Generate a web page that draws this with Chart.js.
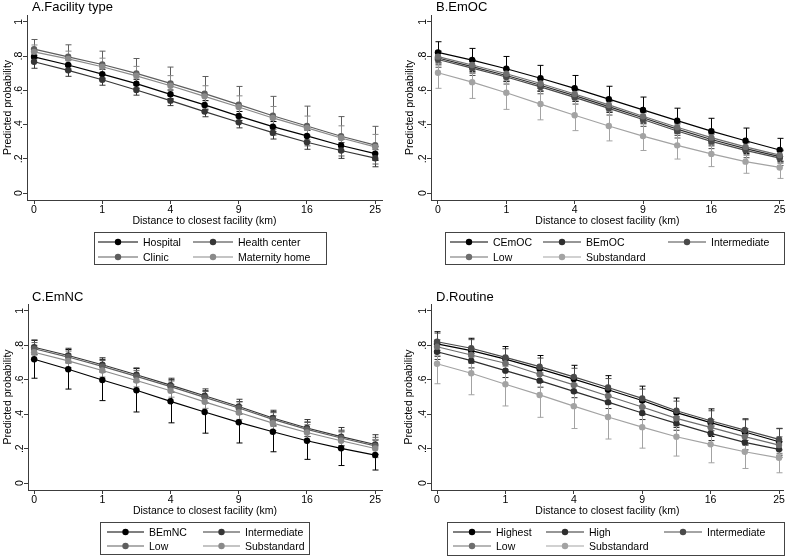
<!DOCTYPE html>
<html>
<head>
<meta charset="utf-8">
<script src="https://cdn.jsdelivr.net/npm/chart.js@4"></script>
<style>
  body { margin: 0; background: #fff; width: 787px; height: 557px; position: relative; overflow: hidden;
         font-family: "Liberation Sans", Arial, sans-serif; }
  .panel { position: absolute; }
  .panel canvas { position: absolute; left: 0; top: 0; }
  .ttl { position: absolute; font-size: 13px; line-height: 16px; color: #000; white-space: nowrap; }
  .leg { position: absolute; border: 1px solid #444; box-sizing: border-box; }
  .item { position: absolute; height: 14px; display: flex; align-items: center; font-size: 10.5px; color: #000; white-space: nowrap; }
  .item span { margin-left: 5px; }
</style>
</head>
<body>
<script>
// x positions are distances in km, plotted on a square-root axis
const distanceKm = [0, 0.25, 1, 2.25, 4, 6.25, 9, 12.25, 16, 20.25, 25];
const xTicksKm = [0, 1, 4, 9, 16, 25];
const xTickLabels = ['0', '1', '4', '9', '16', '25'];
const yTicks = [0, 0.2, 0.4, 0.6, 0.8, 1];
const yTickLabels = ['0', '.2', '.4', '.6', '.8', '1'];
const xTitle = 'Distance to closest facility (km)';
const yTitle = 'Predicted probability';

// A. Facility type  (ci = half width of the interval)
const facilityLabels = ['Hospital', 'Health center', 'Clinic', 'Maternity home'];
const facilityProb = [
  [0.796, 0.748, 0.695, 0.639, 0.577, 0.515, 0.450, 0.388, 0.334, 0.278, 0.231],
  [0.767, 0.717, 0.662, 0.602, 0.540, 0.476, 0.414, 0.353, 0.297, 0.249, 0.204],
  [0.841, 0.796, 0.751, 0.699, 0.641, 0.581, 0.517, 0.452, 0.392, 0.332, 0.280],
  [0.825, 0.784, 0.738, 0.685, 0.627, 0.565, 0.503, 0.439, 0.381, 0.322, 0.270]
];
const facilityCI = [
  [0.033, 0.030, 0.028, 0.026, 0.025, 0.025, 0.027, 0.030, 0.033, 0.036, 0.040],
  [0.038, 0.035, 0.032, 0.030, 0.029, 0.030, 0.033, 0.037, 0.041, 0.046, 0.050],
  [0.056, 0.070, 0.078, 0.087, 0.095, 0.100, 0.106, 0.113, 0.116, 0.115, 0.110],
  [0.040, 0.045, 0.050, 0.055, 0.059, 0.062, 0.065, 0.067, 0.069, 0.071, 0.073]
];

// B. EmOC
const emocLabels = ['CEmOC', 'BEmOC', 'Intermediate', 'Low', 'Substandard'];
const emocProb = [
  [0.822, 0.777, 0.726, 0.671, 0.612, 0.549, 0.486, 0.423, 0.362, 0.306, 0.252],
  [0.789, 0.739, 0.687, 0.630, 0.569, 0.505, 0.440, 0.374, 0.313, 0.260, 0.213],
  [0.780, 0.730, 0.678, 0.620, 0.559, 0.495, 0.430, 0.363, 0.302, 0.250, 0.204],
  [0.797, 0.748, 0.697, 0.640, 0.579, 0.515, 0.449, 0.385, 0.324, 0.270, 0.222],
  [0.703, 0.648, 0.586, 0.520, 0.455, 0.392, 0.333, 0.279, 0.229, 0.184, 0.150]
];
const emocCI = [
  [0.062, 0.068, 0.072, 0.075, 0.075, 0.075, 0.075, 0.073, 0.075, 0.074, 0.068],
  [0.040, 0.038, 0.036, 0.035, 0.034, 0.034, 0.035, 0.036, 0.037, 0.037, 0.037],
  [0.045, 0.043, 0.041, 0.040, 0.039, 0.039, 0.040, 0.041, 0.042, 0.043, 0.043],
  [0.032, 0.031, 0.030, 0.029, 0.029, 0.029, 0.030, 0.031, 0.032, 0.033, 0.034],
  [0.091, 0.095, 0.097, 0.092, 0.090, 0.087, 0.084, 0.080, 0.074, 0.068, 0.064]
];

// C. EmNC
const emncLabels = ['BEmNC', 'Intermediate', 'Low', 'Substandard'];
const emncProb = [
  [0.719, 0.661, 0.599, 0.539, 0.475, 0.413, 0.353, 0.298, 0.246, 0.202, 0.163],
  [0.789, 0.741, 0.687, 0.629, 0.569, 0.507, 0.445, 0.378, 0.320, 0.270, 0.224],
  [0.780, 0.732, 0.678, 0.620, 0.560, 0.498, 0.436, 0.370, 0.312, 0.262, 0.216],
  [0.760, 0.710, 0.654, 0.596, 0.536, 0.472, 0.410, 0.348, 0.294, 0.246, 0.201]
];
const emncCI = [
  [0.110, 0.115, 0.120, 0.126, 0.125, 0.123, 0.120, 0.116, 0.108, 0.100, 0.087],
  [0.042, 0.042, 0.041, 0.040, 0.040, 0.040, 0.042, 0.045, 0.049, 0.053, 0.057],
  [0.036, 0.035, 0.034, 0.033, 0.033, 0.034, 0.036, 0.039, 0.042, 0.046, 0.050],
  [0.040, 0.039, 0.038, 0.037, 0.037, 0.038, 0.040, 0.043, 0.046, 0.050, 0.053]
];

// D. Routine
const routineLabels = ['Highest', 'High', 'Intermediate', 'Low', 'Substandard'];
const routineProb = [
  [0.808, 0.769, 0.720, 0.663, 0.604, 0.542, 0.480, 0.409, 0.351, 0.297, 0.240],
  [0.763, 0.711, 0.653, 0.595, 0.533, 0.470, 0.407, 0.347, 0.289, 0.237, 0.196],
  [0.821, 0.783, 0.730, 0.676, 0.617, 0.555, 0.492, 0.420, 0.362, 0.308, 0.254],
  [0.792, 0.744, 0.696, 0.632, 0.570, 0.506, 0.442, 0.376, 0.324, 0.270, 0.221],
  [0.693, 0.638, 0.574, 0.512, 0.447, 0.384, 0.325, 0.269, 0.225, 0.182, 0.147]
];
const routineCI = [
  [0.071, 0.072, 0.073, 0.078, 0.080, 0.082, 0.083, 0.085, 0.080, 0.076, 0.078],
  [0.045, 0.042, 0.040, 0.038, 0.037, 0.037, 0.038, 0.040, 0.042, 0.044, 0.046],
  [0.050, 0.050, 0.050, 0.050, 0.050, 0.052, 0.054, 0.056, 0.058, 0.060, 0.062],
  [0.040, 0.039, 0.038, 0.037, 0.037, 0.038, 0.040, 0.042, 0.044, 0.046, 0.048],
  [0.116, 0.125, 0.126, 0.130, 0.130, 0.128, 0.122, 0.112, 0.107, 0.097, 0.087]
];

const grays4 = ['#000000', '#363636', '#5e5e5e', '#8a8a8a'];
const grays5 = ['#000000', '#2e2e2e', '#4a4a4a', '#6e6e6e', '#a3a3a3'];

const panels = [
  { title: 'A.Facility type', labels: facilityLabels, prob: facilityProb, ci: facilityCI, colors: grays4,
    box: [0, 0, 393, 278], padL: 0, yW: 27, areaR: 382, areaT: 15, areaB: 200, xRange: [-0.103, 5.1],
    titleAt: [32, -1], legend: { x: 94, y: 232, w: 233, h: 33, cols: [3, 98], rows: [10, 25], sym: 40 } },
  { title: 'B.EmOC', labels: emocLabels, prob: emocProb, ci: emocCI, colors: grays5,
    box: [393, 0, 394, 278], padL: 9, yW: 29, areaR: 392, areaT: 15, areaB: 200, xRange: [-0.102, 5.06],
    titleAt: [43, -1], legend: { x: 52, y: 232, w: 340, h: 33, cols: [4, 97, 222], rows: [10, 25], sym: 38 } },
  { title: 'C.EmNC', labels: emncLabels, prob: emncProb, ci: emncCI, colors: grays4,
    box: [0, 289, 393, 268], padL: 0, yW: 28, areaR: 382, areaT: 15, areaB: 201, xRange: [-0.09, 5.1],
    titleAt: [32, 0], legend: { x: 100, y: 233, w: 210, h: 33, cols: [6, 102], rows: [10, 24], sym: 37 } },
  { title: 'D.Routine', labels: routineLabels, prob: routineProb, ci: routineCI, colors: grays5,
    box: [393, 289, 394, 268], padL: 8, yW: 30, areaR: 391, areaT: 15, areaB: 201, xRange: [-0.088, 5.07],
    titleAt: [43, 0], legend: { x: 54, y: 233, w: 338, h: 34, cols: [5, 98, 216], rows: [10, 24], sym: 38 } }
];

const xAxisH = 27;
const axisColor = '#3c3c3c';
const tickFont = { family: '"Liberation Sans", Arial, sans-serif', size: 10.5 };

// confidence interval caps, drawn under the lines
const ciBars = {
  id: 'ciBars',
  beforeDatasetsDraw(chart) {
    const { ctx, scales: { x, y } } = chart;
    chart.data.datasets.forEach(ds => {
      ctx.save();
      ctx.strokeStyle = ds.borderColor;
      ctx.lineWidth = 1;
      ds.data.forEach((p, i) => {
        const px = Math.round(x.getPixelForValue(p.x)) + 0.5;
        const top = y.getPixelForValue(p.y + ds.ci[i]);
        const bot = y.getPixelForValue(p.y - ds.ci[i]);
        ctx.beginPath();
        ctx.moveTo(px, top); ctx.lineTo(px, bot);
        ctx.moveTo(px - 3, top); ctx.lineTo(px + 3, top);
        ctx.moveTo(px - 3, bot); ctx.lineTo(px + 3, bot);
        ctx.stroke();
      });
      ctx.restore();
    });
  }
};

panels.forEach(p => {
  const [left, top, w, h] = p.box;
  const div = document.createElement('div');
  div.className = 'panel';
  Object.assign(div.style, { left: left + 'px', top: top + 'px', width: w + 'px', height: h + 'px' });
  document.body.appendChild(div);

  const canvas = document.createElement('canvas');
  canvas.width = w; canvas.height = h;
  div.appendChild(canvas);

  const t = document.createElement('div');
  t.className = 'ttl';
  t.style.left = p.titleAt[0] + 'px';
  t.style.top = p.titleAt[1] + 'px';
  t.textContent = p.title;
  div.appendChild(t);

  const lg = p.legend;
  const box = document.createElement('div');
  box.className = 'leg';
  Object.assign(box.style, { left: lg.x + 'px', top: lg.y + 'px', width: lg.w + 'px', height: lg.h + 'px' });
  p.labels.forEach((name, k) => {
    const c = p.colors[k];
    const it = document.createElement('div');
    it.className = 'item';
    it.style.left = lg.cols[k % lg.cols.length] + 'px';
    it.style.top = (lg.rows[Math.floor(k / lg.cols.length)] - 8) + 'px';
    it.innerHTML = `<svg width="${lg.sym}" height="8"><line x1="0" y1="4" x2="${lg.sym}" y2="4" stroke="${c}" stroke-width="1.2"/>` +
      `<circle cx="${lg.sym / 2}" cy="4" r="3.2" fill="${c}"/></svg><span>${name}</span>`;
    box.appendChild(it);
  });
  div.appendChild(box);

  new Chart(canvas, {
    type: 'line',
    data: {
      datasets: p.labels.map((name, k) => ({
        label: name,
        data: distanceKm.map((d, i) => ({ x: Math.sqrt(d), y: p.prob[k][i] })),
        ci: p.ci[k],
        borderColor: p.colors[k],
        backgroundColor: p.colors[k],
        borderWidth: 1.2,
        pointRadius: 3.2,
        pointBorderWidth: 0,
        pointHoverRadius: 3.2,
        tension: 0,
        order: p.labels.length - k
      }))
    },
    options: {
      responsive: false,
      animation: false,
      events: [],
      layout: { padding: { left: p.padL, top: p.areaT, right: w - p.areaR, bottom: h - p.areaB - xAxisH } },
      plugins: { legend: { display: false }, tooltip: { enabled: false } },
      scales: {
        x: {
          type: 'linear',
          min: p.xRange[0],
          max: p.xRange[1],
          afterBuildTicks: s => { s.ticks = xTicksKm.map(v => ({ value: Math.sqrt(v) })); },
          afterFit: s => { s.height = xAxisH; },
          ticks: { callback: (v, i) => xTickLabels[i], autoSkip: false, maxRotation: 0, padding: 0, color: '#000', font: tickFont },
          grid: { drawOnChartArea: false, tickLength: 4, color: axisColor },
          border: { color: axisColor },
          title: { display: true, text: xTitle, padding: 0, color: '#000', font: tickFont }
        },
        y: {
          type: 'linear',
          min: -0.04,
          max: 1.04,
          afterBuildTicks: s => { s.ticks = yTicks.map(v => ({ value: v })); },
          afterFit: s => { s.width = p.yW; },
          ticks: { callback: (v, i) => yTickLabels[i], minRotation: 90, maxRotation: 90, crossAlign: 'center',
                   padding: 0, color: '#000', font: tickFont },
          grid: { drawOnChartArea: false, tickLength: 4, color: axisColor },
          border: { color: axisColor },
          title: { display: true, text: yTitle, padding: { top: 2, bottom: 0 }, color: '#000', font: tickFont }
        }
      }
    },
    plugins: [ciBars]
  });
});
</script>
</body>
</html>
